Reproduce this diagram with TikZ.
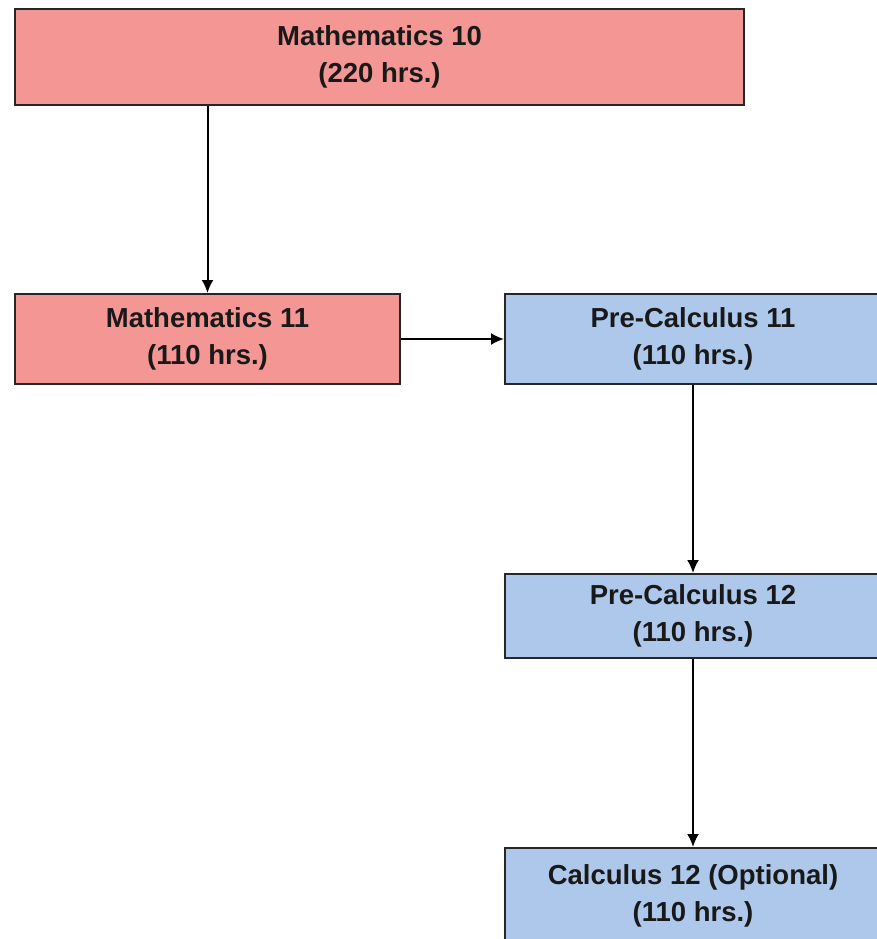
\documentclass[tikz,border=0pt]{standalone}
\usepackage{fontspec}
\setmainfont{Liberation Sans}
\usetikzlibrary{arrows.meta}

\begin{document}
\begin{tikzpicture}[x=1pt, y=-1pt,
  course/.style={draw=black!85, line width=2pt, inner sep=0pt, align=center,
    font=\bfseries\fontsize{27.5}{36.5}\selectfont, text=black!90},
  flow/.style={line width=2pt, -{Latex[length=13pt,width=12pt]}}]
\definecolor{myred}{RGB}{244,150,148}
\definecolor{myblue}{RGB}{173,200,235}
\useasboundingbox (0,0) rectangle (877,939);
\node[course, fill=myred, minimum width=729pt, minimum height=96pt] (math10) at (379.5,57) {Mathematics 10\\(220 hrs.)}; % Math.10
\node[course, fill=myred, minimum width=385pt, minimum height=90pt] (math11) at (207.5,339) {Mathematics 11\\(110 hrs.)}; % Math.11
\node[course, fill=myblue, minimum width=376pt, minimum height=90pt] (precalc11) at (693,339) {Pre-Calculus 11\\(110 hrs.)}; % PreCalc.11
\node[course, fill=myblue, minimum width=376pt, minimum height=84pt] (precalc12) at (693,616) {Pre-Calculus 12\\(110 hrs.)}; % PreCalc.12
\node[course, fill=myblue, minimum width=376pt, minimum height=96pt] (calc12) at (693,896) {Calculus 12 (Optional)\\(110 hrs.)}; % Calc.12

\draw[flow] (math10.south -| math11.north) -- (math11.north) ; % math10 to math11
\draw[flow] (math11.east) -- (precalc11.west) ; % math11 to precalc11
\draw[flow] (precalc11.south) -- (precalc12.north) ; % precalc11 to precalc12
\draw[flow] (precalc12.south) -- (calc12.north) ; % precalc12 to calc12
\end{tikzpicture}
\end{document}
